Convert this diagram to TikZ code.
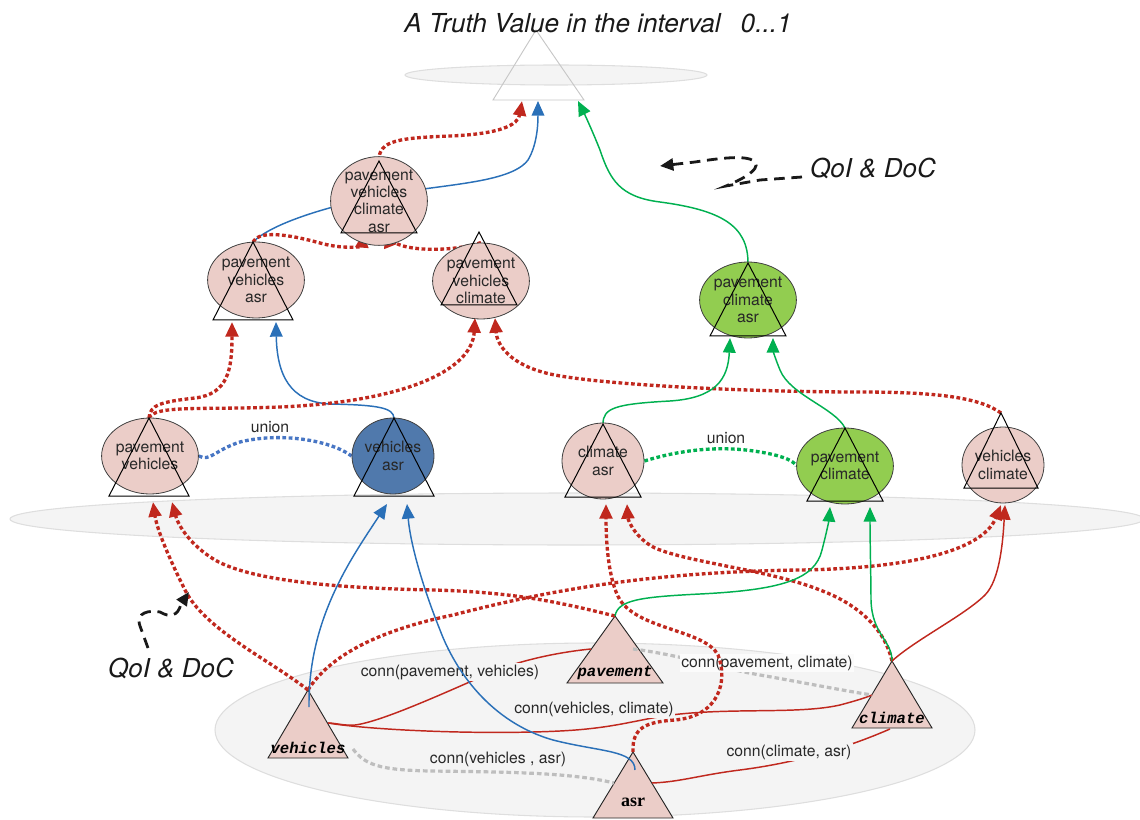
\documentclass[tikz,border=0pt]{standalone}
\usepackage{fontspec}
\setmainfont{TeX Gyre Heros}
\newfontfamily\monolab{Liberation Mono}
\newfontfamily\seriflab{Liberation Serif}
\usetikzlibrary{arrows.meta,shapes.geometric,calc}

\definecolor{nodepink}{RGB}{235,205,200}
\definecolor{nodeblue}{RGB}{80,121,172}
\definecolor{nodegreen}{RGB}{146,205,80}
\definecolor{linered}{RGB}{192,40,30}
\definecolor{lineblue}{RGB}{42,112,184}
\definecolor{linegreen}{RGB}{0,176,80}
\definecolor{unionblue}{RGB}{72,118,196}
\definecolor{dashgray}{RGB}{190,190,190}
\definecolor{planefill}{RGB}{244,244,244}
\definecolor{planeline}{RGB}{222,222,222}
\definecolor{textgray}{RGB}{40,40,40}

\pgfdeclarelayer{back}
\pgfdeclarelayer{links}
\pgfdeclarelayer{linklabels}
\pgfdeclarelayer{wires}
\pgfsetlayers{back,links,linklabels,wires,main}

% combined node: name, centre x, centre y, apex x, apex y, base y, half width, fill, text
\newcommand\combo[9]{%
  \node[comb,fill=#8] (#1) at (#2,#3) {#9};
  \coordinate (#1-top) at (#4,#5);
  \draw[tri] (#4,#5) -- ({#4-#7},#6) -- ({#4+#7},#6) -- cycle;}

% attribute triangle: name, apex x, apex y, base y, half width, label y, label
\newcommand\attr[7]{%
  \filldraw[fill=nodepink,draw=black!85,line width=0.7pt]
    (#2,#3) -- ({#2-#5},#4) -- ({#2+#5},#4) -- cycle;
  \coordinate (#1-top) at (#2,#3);
  \node[inner sep=0pt] (#1) at (#2,#6) {#7};}

\begin{document}
\begin{tikzpicture}[x=0.75pt,y=-0.75pt,
  comb/.style={ellipse,draw=black!75,line width=0.6pt,minimum width=61.5pt,
    minimum height=57pt,inner sep=0pt,align=center,text=textgray,
    font=\fontsize{11.8}{13}\selectfont},
  tri/.style={draw=black,line width=0.75pt},
  tip/.style={-{Triangle[length=11pt,width=9.5pt]}},
  reddot/.style={tip,draw=linered,line width=2.5pt,dash pattern=on 2.8pt off 1.9pt},
  blueline/.style={tip,draw=lineblue,line width=1.1pt},
  greenline/.style={tip,draw=linegreen,line width=1.1pt},
  redline/.style={draw=linered,line width=1.1pt},
  graydash/.style={draw=dashgray,line width=2.4pt,dash pattern=on 3.5pt off 2.2pt},
  uniondot/.style={line width=2.5pt,dash pattern=on 2.8pt off 1.9pt},
  qoiarrow/.style={-{Triangle[length=10pt,width=9pt]},draw=black!90,
    line width=2.1pt,dash pattern=on 8pt off 5pt},
  connlab/.style={fill=planefill,inner sep=1pt,text=textgray,
    font=\fontsize{11.8}{13}\selectfont},
  qoi/.style={font=\fontsize{19.5}{22}\selectfont\itshape,text=black!90,inner sep=1pt}]

\useasboundingbox (0,0) rectangle (1140,820);

% ---------- planes ----------
\begin{pgfonlayer}{back}
  \filldraw[fill=planefill,draw=planeline,line width=0.8pt] (556,75) ellipse [x radius=151,y radius=10];
  \filldraw[fill=planefill,draw=planeline,line width=0.8pt] (577,519) ellipse [x radius=567,y radius=26];
  \filldraw[fill=planefill,draw=planeline,line width=0.8pt] (595,730) ellipse [x radius=380,y radius=87];
  \draw[black!22,line width=0.7pt] (536,30) -- (493,100) -- (584,100) -- cycle;
  \attr{veh}{308}{690}{758}{40}{748}{\monolab\bfseries\itshape\fontsize{11.7}{13}\selectfont vehicles}
  \attr{pav}{615}{616}{683}{48}{673}{\monolab\bfseries\itshape\fontsize{11.7}{13}\selectfont pavement}
  \attr{asr}{633}{752}{818}{40}{802}{\seriflab\bfseries\fontsize{13.5}{15}\selectfont asr}
  \attr{cli}{892}{661}{728}{40}{718}{\monolab\bfseries\itshape\fontsize{11.7}{13}\selectfont climate}
\end{pgfonlayer}

\node[font=\fontsize{19.6}{22}\selectfont\itshape,text=black!90,inner sep=0pt] (title) at (598,23)
  {A Truth Value in the interval\hspace{15pt}0...1};
\coordinate (truth-r) at (522,101);
\coordinate (truth-b) at (538,101);
\coordinate (truth-g) at (578,101);

% ---------- combined nodes ----------
\combo{pvca}{379}{201}{379}{161}{233}{38}{nodepink}{pavement\\vehicles\\climate\\asr}
\combo{pva}{256}{280}{253}{242}{320}{40}{nodepink}{pavement\\vehicles\\asr}
\combo{pvc}{481}{281}{479}{232}{305}{38}{nodepink}{pavement\\vehicles\\climate}
\combo{pca}{748}{300}{748}{263}{336}{38}{nodegreen}{pavement\\climate\\asr}
\combo{pv}{150}{456}{149}{418}{496}{40}{nodepink}{pavement\\vehicles}
\combo{va}{393}{456}{394}{418}{496}{40}{nodeblue}{vehicles\\asr}
\combo{ca}{603}{461}{603}{424}{497}{38}{nodepink}{climate\\asr}
\combo{pc}{845}{466}{845}{428}{501}{38}{nodegreen}{pavement\\climate}
\combo{vc}{1003}{465}{1001}{413}{488}{37}{nodepink}{vehicles\\climate}

% arrival points under the combined nodes
\coordinate (pvca-in1) at (363,233); \coordinate (pvca-in2) at (385,233);
\coordinate (pva-in1) at (232,322);  \coordinate (pva-in2) at (276,322);
\coordinate (pvc-in1) at (475,318);  \coordinate (pvc-in2) at (495,318);
\coordinate (pca-in1) at (730,338);  \coordinate (pca-in2) at (773,338);
\coordinate (pv-in1) at (153,502);   \coordinate (pv-in2) at (172,502);
\coordinate (va-in1) at (387,504);   \coordinate (va-in2) at (407,504);
\coordinate (ca-in1) at (606,504);   \coordinate (ca-in2) at (627,504);
\coordinate (pc-in1) at (830,507);   \coordinate (pc-in2) at (870,507);
\coordinate (vc-in1) at (1001,505);  \coordinate (vc-in2) at (1005,505);

% anchor points on the attribute triangles
\coordinate (veh-mid) at (309,707); \coordinate (veh-e) at (328,723); \coordinate (veh-se) at (353,749);
\coordinate (pav-w) at (591,649);   \coordinate (pav-in) at (633,649);
\coordinate (asr-mid) at (635,770); \coordinate (asr-e) at (652,783); \coordinate (asr-w) at (614,783);
\coordinate (cli-w) at (872,695);   \coordinate (cli-s) at (890,729);

% ---------- connections between attributes ----------
\begin{pgfonlayer}{links}
  \draw[redline] (pav-w) .. controls (560,652) and (520,660) .. (490,673)
     .. controls (440,695) and (380,722) .. (355,725) .. controls (345,726) and (335,723) .. (veh-e);
  \draw[redline] (veh-e) .. controls (370,730) and (480,735) .. (560,731)
     .. controls (620,728) and (640,718) .. (680,714) .. controls (740,708) and (800,714) .. (840,705)
     .. controls (855,701) and (865,698) .. (cli-w);
  \draw[redline] (asr-e) .. controls (680,782) and (700,775) .. (740,770)
     .. controls (810,761) and (860,742) .. (cli-s);
  \draw[graydash] (pav-in) .. controls (680,655) and (720,668) .. (760,675) .. controls (800,682) and (840,690) .. (cli-w);
  \draw[graydash] (veh-se) .. controls (365,765) and (380,770) .. (430,771)
     .. controls (500,772) and (570,772) .. (asr-w);
\end{pgfonlayer}
\begin{pgfonlayer}{linklabels}
  \node[connlab] (lab-pv) at (450,672) {conn(pavement, vehicles)};
  \node[connlab,fill=gray!3] (lab-pc) at (767,663) {conn(pavement, climate)};
  \node[connlab] (lab-vc) at (594,709) {conn(vehicles, climate)};
  \node[connlab] (lab-va) at (498,759) {conn(vehicles , asr)};
  \node[connlab] (lab-ca) at (789,752) {conn(climate, asr)};
\end{pgfonlayer}

% ---------- derivation arrows ----------
\begin{pgfonlayer}{wires}
  % into the truth value
  \draw[reddot] (pvca-top) .. controls (378,140) and (400,138) .. (450,136)
     .. controls (500,134) and (518,125) .. (truth-r);
  \draw[blueline] (pva-top) .. controls (270,225) and (320,208) .. (380,196)
     .. controls (440,184) and (510,184) .. (528,160) .. controls (537,145) and (538,125) .. (truth-b);
  \draw[greenline] (pca-top) .. controls (748,225) and (720,210) .. (660,202)
     .. controls (620,197) and (610,180) .. (600,150) .. controls (592,130) and (585,115) .. (truth-g);
  % into the four-attribute node
  \draw[reddot] (pva-top) .. controls (258,232) and (280,232) .. (320,243)
     .. controls (345,250) and (362,246) .. (pvca-in1);
  \draw[reddot] (pvc.north) .. controls (460,250) and (420,252) .. (400,245)
     .. controls (392,242) and (387,238) .. (pvca-in2);
  % into the three-attribute nodes
  \draw[reddot] (pv-top) .. controls (150,405) and (160,402) .. (195,398)
     .. controls (228,394) and (232,370) .. (pva-in1);
  \draw[blueline] (va-top) .. controls (393,408) and (380,405) .. (330,404)
     .. controls (290,402) and (277,375) .. (pva-in2);
  \draw[reddot] (pv-top) .. controls (155,405) and (200,410) .. (280,407)
     .. controls (400,402) and (472,372) .. (pvc-in1);
  \draw[reddot] (vc-top) .. controls (980,398) and (940,392) .. (860,392)
     .. controls (750,392) and (600,385) .. (550,374) .. controls (510,365) and (497,345) .. (pvc-in2);
  \draw[greenline] (ca-top) .. controls (603,408) and (615,404) .. (670,401)
     .. controls (715,398) and (728,380) .. (pca-in1);
  \draw[greenline] (pc-top) .. controls (835,408) and (790,395) .. (780,370)
     .. controls (775,358) and (773,350) .. (pca-in2);
  % unions
  \draw[uniondot,draw=unionblue] (pv.east) .. controls (210,462) and (215,450) .. (240,442)
     .. controls (280,432) and (330,440) .. (va.west);
  \draw[uniondot,draw=linegreen] (ca.east) .. controls (680,450) and (720,445) .. (760,452)
     .. controls (785,456) and (795,462) .. (pc.west);
  % from the attributes into the two-attribute nodes
  \draw[reddot] (veh-top) .. controls (270,660) and (205,630) .. (185,590)
     .. controls (170,560) and (157,530) .. (pv-in1);
  \draw[reddot] (pav-top) .. controls (570,605) and (520,592) .. (433,590)
     .. controls (330,588) and (250,580) .. (215,560) .. controls (190,545) and (178,525) .. (pv-in2);
  \draw[reddot] (veh-top) .. controls (330,655) and (380,630) .. (453,615)
     .. controls (550,590) and (650,572) .. (800,570) .. controls (930,568) and (985,545) .. (vc-in1);
  \draw[blueline] (veh-mid) .. controls (308,620) and (350,560) .. (va-in1);
  \draw[blueline] (asr-mid) .. controls (635,750) and (600,752) .. (553,740)
     .. controls (490,722) and (455,670) .. (440,630) .. controls (420,580) and (410,540) .. (va-in2);
  \draw[reddot] (asr-top) .. controls (632,728) and (645,722) .. (675,720)
     .. controls (720,716) and (728,680) .. (718,655) .. controls (705,630) and (640,630) .. (620,600)
     .. controls (608,580) and (606,540) .. (ca-in1);
  \draw[reddot] (cli-top) .. controls (885,630) and (860,605) .. (820,590)
     .. controls (770,570) and (690,563) .. (655,548) .. controls (635,538) and (628,520) .. (ca-in2);
  \draw[greenline] (pav-top) .. controls (618,600) and (640,597) .. (700,594)
     .. controls (780,590) and (815,580) .. (822,550) .. controls (826,535) and (829,520) .. (pc-in1);
  \draw[greenline] (cli-top) .. controls (892,640) and (872,635) .. (871,600)
     .. controls (871,580) and (870,540) .. (pc-in2);
  \draw[redline,tip] (cli-top) .. controls (915,640) and (965,615) .. (985,595)
     .. controls (1000,580) and (1003,540) .. (vc-in2);
\end{pgfonlayer}

\node[font=\fontsize{11.8}{13}\selectfont,text=textgray] (union-b) at (270,427) {union};
\node[font=\fontsize{11.8}{13}\selectfont,text=textgray] (union-g) at (726,438) {union};

% ---------- QoI & DoC notes ----------
\node[qoi] (qoi-top) at (873,168) {QoI \& DoC};
\node[qoi] (qoi-bot) at (171,668) {QoI \& DoC};
\coordinate (qoi-top-from) at (802,177);
\coordinate (qoi-top-aim) at (660,166);
\coordinate (qoi-bot-from) at (148,648);
\coordinate (qoi-bot-aim) at (189,592);
\draw[qoiarrow] (qoi-top-from) -- (760,180) -- (726,186)
   .. controls (748,177) and (764,166) .. (752,160) .. controls (742,155) and (715,159) .. (695,162) -- (qoi-top-aim);
\draw[qoiarrow] (qoi-bot-from) -- (140,626) .. controls (135,612) and (150,610) .. (160,612)
   .. controls (170,618) and (178,616) .. (181,604) -- (qoi-bot-aim);
\end{tikzpicture}
\end{document}
